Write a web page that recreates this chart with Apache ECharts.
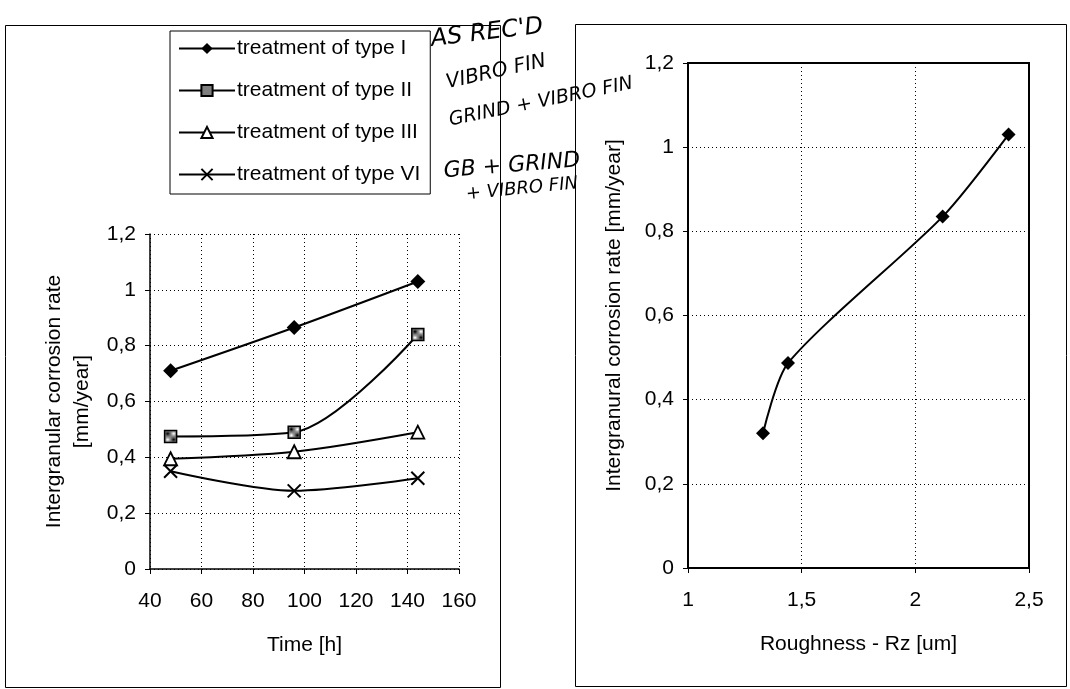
<!DOCTYPE html>
<html>
<head>
<meta charset="utf-8">
<script src="https://cdn.jsdelivr.net/npm/echarts@6/dist/echarts.min.js"></script>
<style>
  html, body { margin: 0; padding: 0; background: #fff; }
  #chart { width: 1070px; height: 689px; }
</style>
</head>
<body>
<div id="chart"></div>
<script>
// left chart: corrosion rate vs time
var timeH = [48, 96, 144];
var typeI   = [0.71, 0.865, 1.03];
var typeII  = [0.475, 0.49, 0.84];
var typeIII = [0.395, 0.42, 0.49];
var typeVI  = [0.35, 0.28, 0.325];
var seriesNames = ['treatment of type I', 'treatment of type II', 'treatment of type III', 'treatment of type VI'];

// right chart: corrosion rate vs roughness
var roughness = [1.33, 1.44, 2.12, 2.41];
var roughRate = [0.32, 0.487, 0.835, 1.03];

// handwritten notes
var notes = ["AS REC'D", 'VIBRO FIN', 'GRIND + VIBRO FIN', 'GB + GRIND', '+ VIBRO FIN'];

function pairs(xs, ys) {
  return xs.map(function (x, i) { return [x, ys[i]]; });
}
function comma(v) { return String(v).replace('.', ','); }

// checkered fill for the square marker
var pat = document.createElement('canvas');
pat.width = 2; pat.height = 2;
var pc = pat.getContext('2d');
pc.fillStyle = '#fff'; pc.fillRect(0, 0, 2, 2);
pc.fillStyle = '#000'; pc.fillRect(0, 0, 1, 1); pc.fillRect(1, 1, 1, 1);

var FONT = 'Liberation Sans, Arial, sans-serif';
var HAND = 'DejaVu Sans';
var FS = 21;

var dotted = { color: '#000', width: 1, type: [1, 3] };
function ax(o) {
  var base = {
    axisLine: { show: true, lineStyle: { color: '#000', width: 1.5 } },
    axisTick: { show: true, length: 5, lineStyle: { color: '#000' } },
    splitLine: { show: true, lineStyle: dotted },
    axisLabel: { color: '#000', fontSize: FS, fontFamily: FONT, formatter: comma, margin: 14 },
    nameTextStyle: { color: '#000', fontSize: FS, fontFamily: FONT }
  };
  return Object.assign(base, o);
}

var lineStyle = { color: '#000', width: 2 };

var option = {
  animation: false,
  backgroundColor: '#fff',
  textStyle: { fontFamily: FONT },
  legend: {
    orient: 'vertical',
    left: 170, top: 31,
    padding: [7, 10, 9, 8],
    itemGap: 21,
    itemWidth: 56, itemHeight: 14,
    borderColor: '#000', borderWidth: 1,
    textStyle: { color: '#000', fontSize: FS, fontFamily: FONT, padding: [0, 0, 0, -3] },
    data: seriesNames
  },
  grid: [
    { left: 150, top: 234, width: 309, height: 335 },
    { left: 688, top: 63, width: 341, height: 505, show: true, borderColor: '#000', borderWidth: 2 }
  ],
  xAxis: [
    ax({ gridIndex: 0, type: 'value', min: 40, max: 160, interval: 20,
      name: 'Time [h]', nameLocation: 'middle', nameGap: 66,
      axisLabel: { color: '#000', fontSize: FS, fontFamily: FONT, formatter: comma, margin: 22 } }),
    ax({ gridIndex: 1, type: 'value', min: 1, max: 2.5, interval: 0.5,
      name: 'Roughness - Rz [um]', nameLocation: 'middle', nameGap: 66,
      axisLabel: { color: '#000', fontSize: FS, fontFamily: FONT, formatter: comma, margin: 22 } })
  ],
  yAxis: [
    ax({ gridIndex: 0, type: 'value', min: 0, max: 1.2, interval: 0.2,
      name: 'Intergranular corrosion rate\n[mm/year]', nameLocation: 'middle', nameGap: 54,
      nameTextStyle: { color: '#000', fontSize: FS, fontFamily: FONT, lineHeight: 28 } }),
    ax({ gridIndex: 1, type: 'value', min: 0, max: 1.2, interval: 0.2,
      name: 'Intergranural corrosion rate [mm/year]', nameLocation: 'middle', nameGap: 63,
      axisLine: { show: true, lineStyle: { color: '#000', width: 2 } } })
  ],
  series: [
    { name: seriesNames[0], type: 'line', xAxisIndex: 0, yAxisIndex: 0, smooth: 0.3,
      data: pairs(timeH, typeI), symbol: 'diamond', symbolSize: 15,
      lineStyle: lineStyle, itemStyle: { color: '#000' } },
    { name: seriesNames[1], type: 'line', xAxisIndex: 0, yAxisIndex: 0, smooth: 0.3,
      data: pairs(timeH, typeII), symbol: 'rect', symbolSize: 12,
      lineStyle: lineStyle, itemStyle: { color: { image: pat, repeat: 'repeat' }, borderColor: '#000', borderWidth: 1.5 } },
    { name: seriesNames[2], type: 'line', xAxisIndex: 0, yAxisIndex: 0, smooth: 0.3,
      data: pairs(timeH, typeIII), symbol: 'triangle', symbolSize: 13,
      lineStyle: lineStyle, itemStyle: { color: '#fff', borderColor: '#000', borderWidth: 1.8 } },
    { name: seriesNames[3], type: 'line', xAxisIndex: 0, yAxisIndex: 0, smooth: 0.3,
      data: pairs(timeH, typeVI), symbol: 'path://M0,0L10,10M0,10L10,0', symbolSize: 13,
      lineStyle: lineStyle, itemStyle: { color: 'none', borderColor: '#000', borderWidth: 2 } },
    { name: 'roughness', type: 'line', xAxisIndex: 1, yAxisIndex: 1, smooth: 0.25,
      data: pairs(roughness, roughRate), symbol: 'diamond', symbolSize: 14,
      lineStyle: lineStyle, itemStyle: { color: '#000' } }
  ],
  graphic: [
    { type: 'rect', shape: { x: 5.5, y: 25.5, width: 495, height: 662 },
      style: { fill: null, stroke: '#000', lineWidth: 1 }, silent: true },
    { type: 'rect', shape: { x: 575.5, y: 24.5, width: 491, height: 662 },
      style: { fill: null, stroke: '#000', lineWidth: 1 }, silent: true },
    { type: 'text', x: 487, y: 33, rotation: 0.12,
      style: { text: notes[0], fill: '#000', font: 'italic 24px ' + HAND, align: 'center', verticalAlign: 'middle' } },
    { type: 'text', x: 496, y: 72, rotation: 0.22,
      style: { text: notes[1], fill: '#000', font: 'italic 20px ' + HAND, align: 'center', verticalAlign: 'middle' } },
    { type: 'text', x: 541, y: 102, rotation: 0.2,
      style: { text: notes[2], fill: '#000', font: 'italic 19px ' + HAND, align: 'center', verticalAlign: 'middle' } },
    { type: 'text', x: 512, y: 166, rotation: 0.08,
      style: { text: notes[3], fill: '#000', font: 'italic 22px ' + HAND, align: 'center', verticalAlign: 'middle' } },
    { type: 'text', x: 522, y: 189, rotation: 0.1,
      style: { text: notes[4], fill: '#000', font: 'italic 18px ' + HAND, align: 'center', verticalAlign: 'middle' } }
  ]
};

echarts.init(document.getElementById('chart'), null, { renderer: 'canvas' }).setOption(option);
</script>
</body>
</html>
